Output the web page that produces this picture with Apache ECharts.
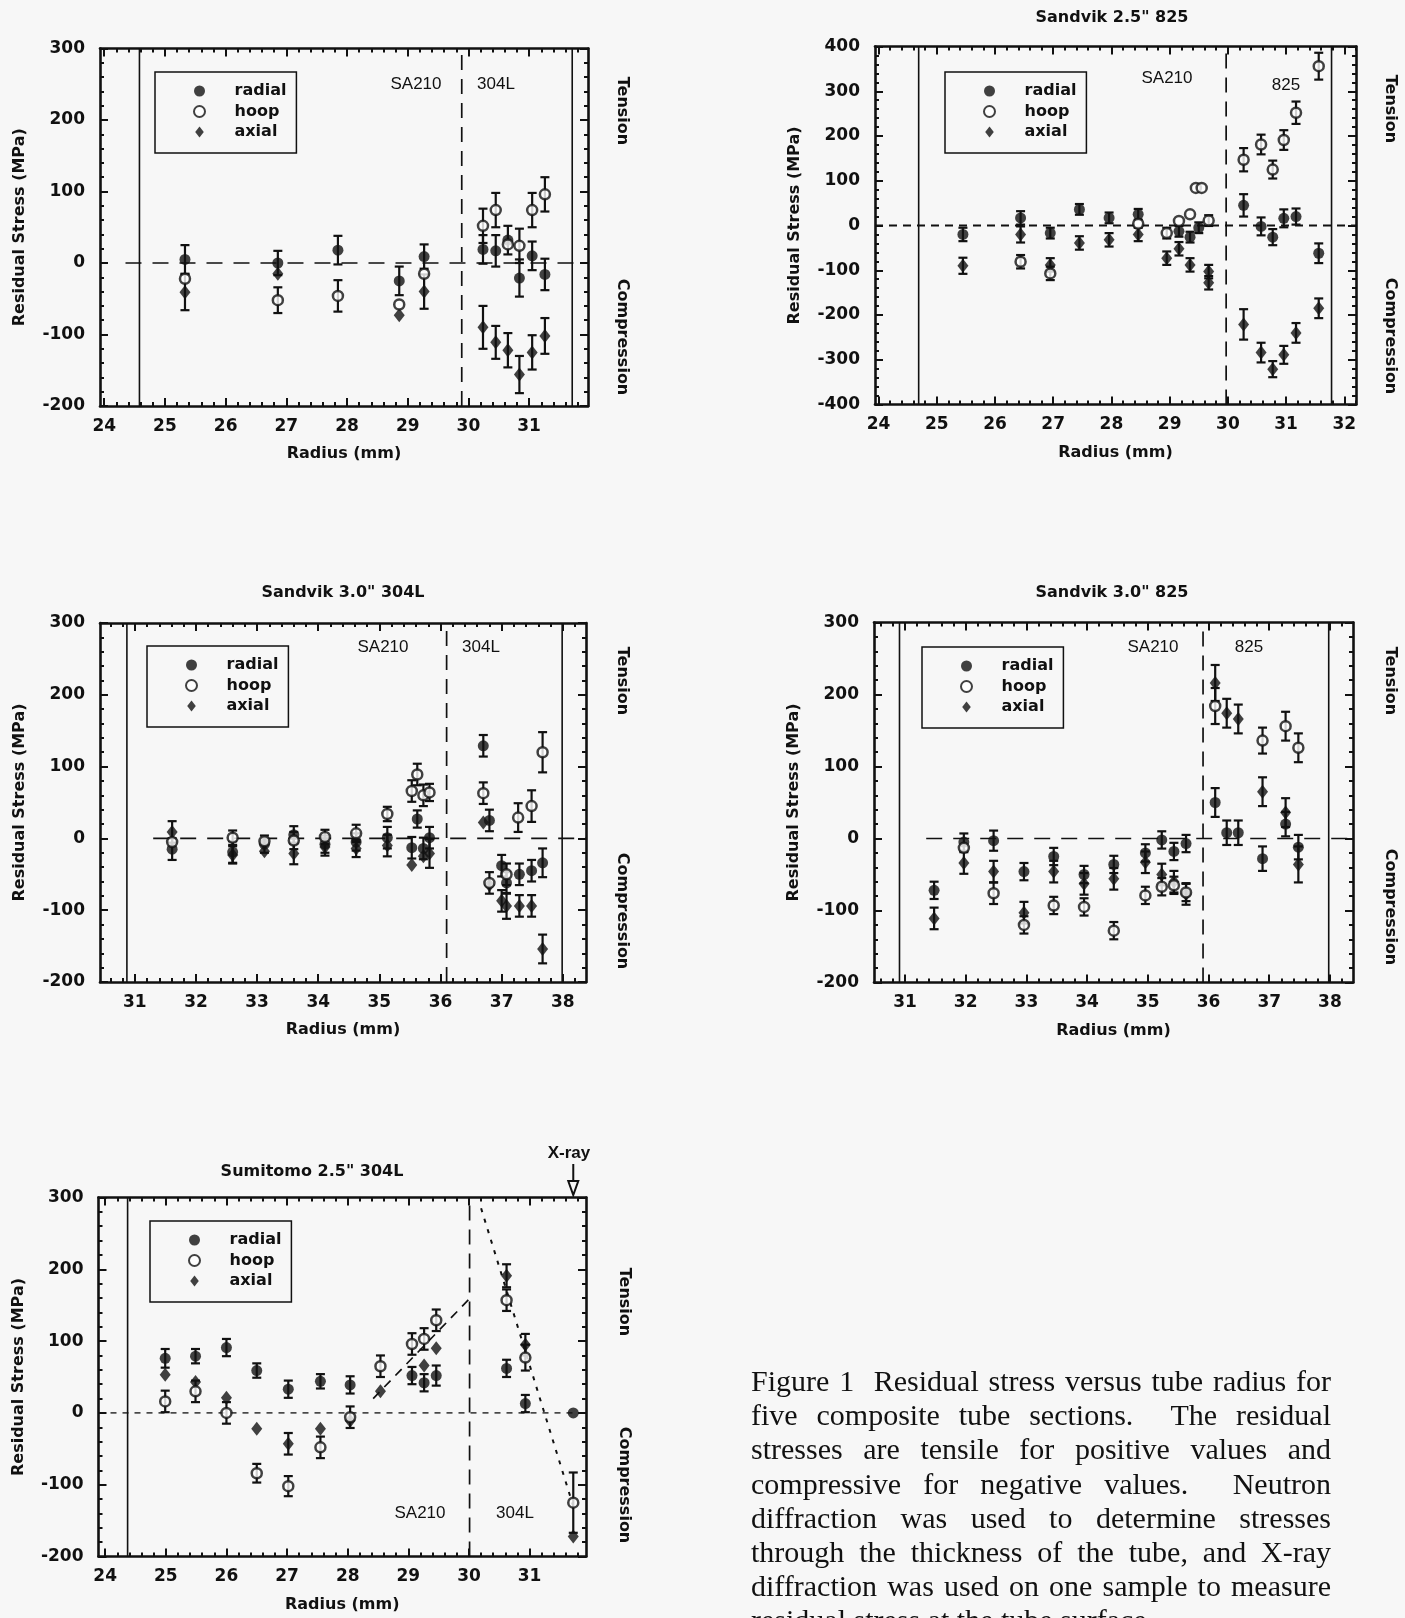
<!DOCTYPE html>
<html>
<head>
<meta charset="utf-8">
<script src="https://cdn.jsdelivr.net/npm/echarts@6/dist/echarts.min.js"></script>
<style>
html,body{margin:0;padding:0;width:1405px;height:1618px;overflow:hidden;background:#f7f7f7;}
#chart{position:absolute;left:0;top:0;width:1405px;height:1618px;}
#caption{position:absolute;left:751px;top:1364px;width:580px;font-family:"Liberation Serif","DejaVu Serif",serif;font-size:30px;line-height:34.2px;color:#111;}
#caption div{text-align:justify;text-align-last:justify;}
#caption div.last{text-align-last:left;}
</style>
</head>
<body>
<div id="chart"></div>
<div id="caption">
<div>Figure 1&nbsp; Residual stress versus tube radius for</div>
<div>five composite tube sections.&nbsp; The residual</div>
<div>stresses are tensile for positive values and</div>
<div>compressive for negative values.&nbsp; Neutron</div>
<div>diffraction was used to determine stresses</div>
<div>through the thickness of the tube, and X-ray</div>
<div>diffraction was used on one sample to measure</div>
<div class="last">residual stress at the tube surface.</div>
</div>
<script>
// ---------- tick labels ----------
const xTicks24 = [24, 25, 26, 27, 28, 29, 30, 31, 32];
const xTicks31 = [31, 32, 33, 34, 35, 36, 37, 38];
const yTicks300 = [-200, -100, 0, 100, 200, 300];
const yTicks400 = [-400, -300, -200, -100, 0, 100, 200, 300, 400];

// ---------- data: [radius mm, stress MPa, error MPa] ----------
// Panel 1 (SA210 / 304L)
const p1Radial = [[25.33,5,20],[26.86,0,17],[27.85,18,20],[28.86,-25,20],[29.27,9,17],[30.24,19,20],[30.45,17,22],[30.65,32,20],[30.84,-21,26],[31.05,10,20],[31.26,-16,22]];
const p1Hoop   = [[25.33,-22,0],[26.86,-52,18],[27.85,-46,22],[28.86,-58,0],[29.27,-15,0],[30.24,52,24],[30.45,74,24],[30.65,26,0],[30.84,24,24],[31.05,74,24],[31.26,96,24]];
const p1Axial  = [[25.33,-41,25],[26.86,-15,0],[28.86,-73,0],[29.27,-40,24],[30.24,-90,30],[30.45,-111,23],[30.65,-122,24],[30.84,-156,26],[31.05,-125,24],[31.26,-102,25]];
// Panel 2 (Sandvik 2.5" 825)
const p2Radial = [[25.45,-20,15],[26.44,17,15],[26.95,-17,12],[27.45,36,12],[27.96,17,12],[28.46,25,12],[29.16,-13,12],[29.35,-26,12],[29.5,-5,12],[30.27,45,25],[30.57,-2,20],[30.77,-26,18],[30.96,16,20],[31.17,20,18],[31.56,-62,22]];
const p2Hoop   = [[26.44,-81,15],[26.95,-107,15],[28.46,4,0],[28.95,-17,12],[29.16,10,0],[29.35,25,0],[29.45,84,0],[29.55,84,0],[29.67,11,12],[30.27,147,26],[30.57,181,22],[30.77,125,20],[30.96,191,22],[31.17,252,25],[31.56,356,30]];
const p2Axial  = [[25.45,-90,18],[26.44,-20,18],[26.95,-88,15],[27.45,-39,15],[27.96,-32,15],[28.46,-20,15],[28.95,-73,15],[29.16,-52,15],[29.35,-88,15],[29.67,-103,15],[29.67,-128,15],[30.27,-221,34],[30.57,-284,22],[30.77,-321,18],[30.96,-289,20],[31.17,-240,22],[31.56,-185,22]];
// Panel 3 (Sandvik 3.0" 304L)
const p3Radial = [[31.61,-15,15],[32.6,-19,15],[33.12,-8,12],[33.6,5,12],[34.11,-8,12],[34.62,-5,12],[35.13,1,15],[35.53,-13,15],[35.62,27,12],[35.72,-14,15],[35.82,1,15],[36.7,129,15],[36.8,25,15],[37.0,-38,15],[37.08,-62,15],[37.29,-50,15],[37.49,-45,15],[37.67,-34,20]];
const p3Hoop   = [[31.61,-5,0],[32.6,1,10],[33.12,-4,0],[33.6,-3,12],[34.11,2,10],[34.62,7,12],[35.13,34,10],[35.53,66,15],[35.62,89,15],[35.72,60,15],[35.82,64,12],[36.7,63,15],[36.8,-62,15],[37.08,-50,15],[37.27,29,20],[37.49,45,22],[37.67,120,28]];
const p3Axial  = [[31.61,9,15],[32.6,-23,12],[33.12,-18,0],[33.6,-21,15],[34.11,-12,12],[34.62,-14,12],[35.13,-10,15],[35.53,-37,0],[35.72,-25,0],[35.82,-21,20],[36.7,22,0],[36.8,-65,0],[37.0,-87,15],[37.08,-94,18],[37.29,-94,15],[37.49,-94,15],[37.67,-154,20]];
// Panel 4 (Sandvik 3.0" 825)
const p4Radial = [[31.48,-72,12],[31.97,-5,12],[32.46,-3,14],[32.96,-46,12],[33.45,-25,12],[33.95,-50,12],[34.44,-36,12],[34.96,-20,12],[35.23,-2,12],[35.43,-18,12],[35.63,-7,12],[36.11,50,20],[36.3,8,17],[36.49,8,17],[36.89,-28,17],[37.27,20,17],[37.48,-12,17]];
const p4Hoop   = [[31.97,-13,0],[32.46,-76,15],[32.96,-120,12],[33.45,-93,12],[33.95,-95,12],[34.44,-128,12],[34.96,-79,12],[35.23,-67,12],[35.43,-65,12],[35.63,-75,12],[36.11,184,25],[36.89,136,18],[37.27,156,20],[37.48,126,20]];
const p4Axial  = [[31.48,-111,15],[31.97,-34,15],[32.46,-46,15],[32.96,-103,15],[33.45,-46,15],[33.95,-63,15],[34.44,-56,15],[34.96,-33,15],[35.23,-50,15],[35.43,-60,15],[35.63,-77,15],[36.11,216,25],[36.3,174,20],[36.49,166,20],[36.89,65,20],[37.27,36,20],[37.48,-36,25]];
// Panel 5 (Sumitomo 2.5" 304L)
const p5Radial = [[24.99,76,13],[25.49,79,10],[26.0,91,12],[26.5,59,10],[27.02,33,12],[27.55,44,10],[28.04,39,12],[29.06,52,12],[29.26,42,12],[29.46,52,14],[30.62,62,12],[30.93,13,12],[31.72,0,0]];
const p5Hoop   = [[24.99,16,15],[25.49,30,15],[26.0,0,15],[26.5,-84,13],[27.02,-102,14],[27.55,-48,15],[28.04,-6,15],[28.54,65,15],[29.06,96,15],[29.26,103,15],[29.46,129,15],[30.62,157,15],[30.93,77,18],[31.72,-125,42]];
const p5Axial  = [[24.99,53,0],[25.49,43,0],[26.0,21,0],[26.5,-22,0],[27.02,-43,15],[27.55,-22,0],[28.04,-11,0],[28.54,30,0],[29.26,66,0],[29.46,90,0],[30.62,191,16],[30.93,95,15],[31.72,-172,0]];
const p5FitInner = [[28.42,20],[30.02,160]];
const p5FitOuter = [[30.2,285],[31.72,-130]];
const xrayRadius = 31.72;

// material boundaries (mm)
const p1Walls = [24.58, 31.71], p1Interface = 29.89, p1ZeroFrom = 24.35;
const p2Walls = [24.69, 31.78], p2Interface = 29.97, p2ZeroFrom = 23.94;
const p3Walls = [30.87, 37.99], p3Interface = 36.1,  p3ZeroFrom = 31.3;
const p4Walls = [30.91, 37.98], p4Interface = 35.91, p4ZeroFrom = 31.35;
const p5Walls = [24.37],        p5Interface = 30.01, p5ZeroFrom = 23.89;

// ---------- styling / layout ----------
const INK = '#111';
const FONT_B = "'DejaVu Sans', 'Liberation Sans', sans-serif";
const FONT_R = "'Liberation Sans', Arial, sans-serif";
const BG = '#f7f7f7';
const DIAMOND = 'path://M0,-1L0.78,0L0,1L-0.78,0Z';

const panels = [
  {grid:{left:100, top:48.5, width:488, height:357.5}, xMin:23.93, xMax:31.97, xTicks:xTicks24, yTicks:yTicks300,
   radial:p1Radial, hoop:p1Hoop, axial:p1Axial, walls:p1Walls, iface:p1Interface, zeroFrom:p1ZeroFrom, zeroStyle:{type:[16,11], width:1.6},
   legend:{left:155, top:72}},
  {grid:{left:875, top:46.5, width:481, height:358}, xMin:23.94, xMax:32.2, xTicks:xTicks24, yTicks:yTicks400,
   radial:p2Radial, hoop:p2Hoop, axial:p2Axial, walls:p2Walls, iface:p2Interface, zeroFrom:p2ZeroFrom, zeroStyle:{type:[8,6], width:2},
   legend:{left:945, top:72}},
  {grid:{left:100, top:623, width:486, height:359}, xMin:30.43, xMax:38.38, xTicks:xTicks31, yTicks:yTicks300,
   radial:p3Radial, hoop:p3Hoop, axial:p3Axial, walls:p3Walls, iface:p3Interface, zeroFrom:p3ZeroFrom, zeroStyle:{type:[16,11], width:1.6},
   legend:{left:147, top:646}},
  {grid:{left:874, top:622.5, width:479, height:360}, xMin:30.49, xMax:38.38, xTicks:xTicks31, yTicks:yTicks300,
   radial:p4Radial, hoop:p4Hoop, axial:p4Axial, walls:p4Walls, iface:p4Interface, zeroFrom:p4ZeroFrom, zeroStyle:{type:[16,11], width:1.6},
   legend:{left:922, top:647}},
  {grid:{left:98.5, top:1197.5, width:487.5, height:359}, xMin:23.89, xMax:31.93, xTicks:xTicks24, yTicks:yTicks300,
   radial:p5Radial, hoop:p5Hoop, axial:p5Axial, walls:p5Walls, iface:p5Interface, zeroFrom:p5ZeroFrom, zeroStyle:{type:[6,6], width:1.3},
   legend:{left:150, top:1221}}
];

function seq(a, b, s) {
  const out = []; const n = Math.round((b - a) / s);
  for (let i = 0; i <= n; i++) out.push(+(a + i * s).toFixed(4));
  return out;
}

const grids = [], xAxes = [], yAxes = [], series = [], legends = [];
const labelStyle = {color: INK, fontFamily: FONT_B, fontWeight: 'bold', fontSize: 17};
const nameStyle = {color: INK, fontFamily: FONT_B, fontWeight: 'bold', fontSize: 16};

panels.forEach((p, i) => {
  grids.push(Object.assign({containLabel: false, outerBoundsMode: 'none'}, p.grid));
  const yMin = p.yTicks[0], yMax = p.yTicks[p.yTicks.length - 1];
  const xMinor = seq(Math.ceil(p.xMin * 5 - 1e-6) / 5, Math.floor(p.xMax * 5 + 1e-6) / 5, 0.2);
  const yMinor = seq(yMin, yMax, 20);
  const base = (extra) => Object.assign({type: 'value', gridIndex: i, splitLine: {show: false},
    minorTick: {show: false}, axisPointer: {show: false}, silent: true}, extra);
  const line = {show: true, onZero: false, lineStyle: {color: INK, width: 2.6}};
  const noLine = {show: false, onZero: false};
  const tick = (vals, len) => ({show: true, inside: true, length: len, customValues: vals, lineStyle: {color: INK, width: 2}});
  const xr = {min: p.xMin, max: p.xMax}, yr = {min: yMin, max: yMax};

  xAxes.push(base(Object.assign({position: 'bottom', axisLine: line, axisTick: tick(p.xTicks, 8),
    axisLabel: Object.assign({show: true, customValues: p.xTicks, margin: 12}, labelStyle),
    name: 'Radius (mm)', nameLocation: 'middle', nameGap: 40, nameTextStyle: nameStyle}, xr)));
  xAxes.push(base(Object.assign({position: 'bottom', axisLine: noLine, axisTick: tick(xMinor, 4), axisLabel: {show: false}}, xr)));
  xAxes.push(base(Object.assign({position: 'top', axisLine: line, axisTick: tick(p.xTicks, 8), axisLabel: {show: false}}, xr)));
  xAxes.push(base(Object.assign({position: 'top', axisLine: noLine, axisTick: tick(xMinor, 4), axisLabel: {show: false}}, xr)));

  yAxes.push(base(Object.assign({position: 'left', axisLine: line, axisTick: tick(p.yTicks, 8),
    axisLabel: Object.assign({show: true, customValues: p.yTicks, margin: 15}, labelStyle),
    name: 'Residual Stress (MPa)', nameLocation: 'middle', nameGap: 72, nameTextStyle: nameStyle}, yr)));
  yAxes.push(base(Object.assign({position: 'left', axisLine: noLine, axisTick: tick(yMinor, 4), axisLabel: {show: false}}, yr)));
  yAxes.push(base(Object.assign({position: 'right', axisLine: line, axisTick: tick(p.yTicks, 8), axisLabel: {show: false}}, yr)));
  yAxes.push(base(Object.assign({position: 'right', axisLine: noLine, axisTick: tick(yMinor, 4), axisLabel: {show: false}}, yr)));

  const xi = 4 * i, yi = 4 * i;
  const lineSeries = (data, style) => ({type: 'line', xAxisIndex: xi, yAxisIndex: yi, data: data, symbol: 'none',
    silent: true, z: 1, lineStyle: Object.assign({color: INK}, style)});
  p.walls.forEach(w => series.push(lineSeries([[w, yMin], [w, yMax]], {width: 1.6})));
  series.push(lineSeries([[p.iface, yMin], [p.iface, yMax]], {width: 1.7, type: [15, 9]}));
  series.push(lineSeries([[p.zeroFrom, 0], [p.xMax, 0]], p.zeroStyle));
  if (i === 4) {
    series.push(lineSeries(p5FitInner, {width: 1.7, type: [9, 7]}));
    series.push(lineSeries(p5FitOuter, {width: 2, type: [4, 7]}));
  }

  const errData = [].concat(p.radial, p.hoop, p.axial).filter(d => d[2] > 0);
  series.push({type: 'custom', xAxisIndex: xi, yAxisIndex: yi, data: errData, encode: {x: 0, y: 1},
    silent: true, z: 2,
    renderItem: (params, api) => {
      const x = api.value(0), y = api.value(1), e = api.value(2);
      const a = api.coord([x, y + e]), b = api.coord([x, y - e]);
      const c = 4.5, st = {stroke: INK, lineWidth: 2.2};
      return {type: 'group', children: [
        {type: 'line', shape: {x1: a[0], y1: a[1], x2: b[0], y2: b[1]}, style: st},
        {type: 'line', shape: {x1: a[0] - c, y1: a[1], x2: a[0] + c, y2: a[1]}, style: st},
        {type: 'line', shape: {x1: b[0] - c, y1: b[1], x2: b[0] + c, y2: b[1]}, style: st}
      ]};
    }});
  series.push({type: 'scatter', name: 'radial', xAxisIndex: xi, yAxisIndex: yi, data: p.radial,
    symbol: 'circle', symbolSize: 11, itemStyle: {color: INK}, z: 3, silent: true});
  series.push({type: 'scatter', name: 'axial', xAxisIndex: xi, yAxisIndex: yi, data: p.axial,
    symbol: DIAMOND, symbolSize: [11, 14], itemStyle: {color: INK}, z: 4, silent: true});
  series.push({type: 'scatter', name: 'hoop', xAxisIndex: xi, yAxisIndex: yi, data: p.hoop,
    symbol: 'circle', symbolSize: 10, itemStyle: {color: '#ffffff', borderColor: INK, borderWidth: 2.5}, z: 5, silent: true});

  legends.push({data: ['radial', 'hoop', 'axial'],
    orient: 'vertical', left: p.legend.left, top: p.legend.top,
    itemWidth: 60, itemHeight: 11, itemGap: 2.5, padding: [10, 10, 12, 38], borderColor: INK, borderWidth: 1.5,
    selectedMode: false, backgroundColor: 'transparent', symbolKeepAspect: true,
    textStyle: {color: INK, fontFamily: FONT_B, fontWeight: 'bold', fontSize: 16, lineHeight: 18}});
});

const chart = echarts.init(document.getElementById('chart'), null, {renderer: 'canvas', width: 1405, height: 1618});
chart.setOption({
  backgroundColor: BG,
  animation: false,
  grid: grids, xAxis: xAxes, yAxis: yAxes, series: series, legend: legends
});

// ---------- annotations ----------
const txt = (text, x, y, opt) => Object.assign({type: 'text', x: x, y: y, silent: true,
  style: Object.assign({text: text, fill: INK, align: 'center', verticalAlign: 'middle',
    fontFamily: FONT_B, fontWeight: 'bold', fontSize: 16}, (opt && opt.style) || {})},
  (opt && opt.rot) ? {rotation: opt.rot} : {});
const reg = {style: {fontFamily: FONT_R, fontWeight: 'normal', fontSize: 17}};
const R = -Math.PI / 2;
const graphics = [
  txt('Sandvik 2.5" 825', 1112, 18),
  txt('Sandvik 3.0" 304L', 343, 593),
  txt('Sandvik 3.0" 825', 1112, 593),
  txt('Sumitomo 2.5" 304L', 312, 1172),
  txt('SA210', 416, 84, reg), txt('304L', 496, 84, reg),
  txt('SA210', 1167, 78, reg), txt('825', 1286, 85, reg),
  txt('SA210', 383, 647, reg), txt('304L', 481, 647, reg),
  txt('SA210', 1153, 647, reg), txt('825', 1249, 647, reg),
  txt('SA210', 420, 1513, reg), txt('304L', 515, 1513, reg),
  txt('Tension', 622, 111, {rot: R}), txt('Compression', 622, 337, {rot: R}),
  txt('Tension', 1390, 109, {rot: R}), txt('Compression', 1390, 336, {rot: R}),
  txt('Tension', 622, 681, {rot: R}), txt('Compression', 622, 911, {rot: R}),
  txt('Tension', 1390, 681, {rot: R}), txt('Compression', 1390, 907, {rot: R}),
  txt('Tension', 624, 1302, {rot: R}), txt('Compression', 624, 1485, {rot: R}),
  txt('X-ray', 569, 1153, {style: {fontFamily: FONT_R, fontWeight: 'bold', fontSize: 17}})
];
const ax = chart.convertToPixel({xAxisIndex: 16}, xrayRadius);
graphics.push({type: 'line', silent: true, shape: {x1: ax, y1: 1164, x2: ax, y2: 1182}, style: {stroke: INK, lineWidth: 2}});
graphics.push({type: 'polygon', silent: true, shape: {points: [[ax - 5, 1181], [ax + 5, 1181], [ax, 1195]]},
  style: {fill: BG, stroke: INK, lineWidth: 2}});
chart.setOption({graphic: graphics});
</script>
</body>
</html>
